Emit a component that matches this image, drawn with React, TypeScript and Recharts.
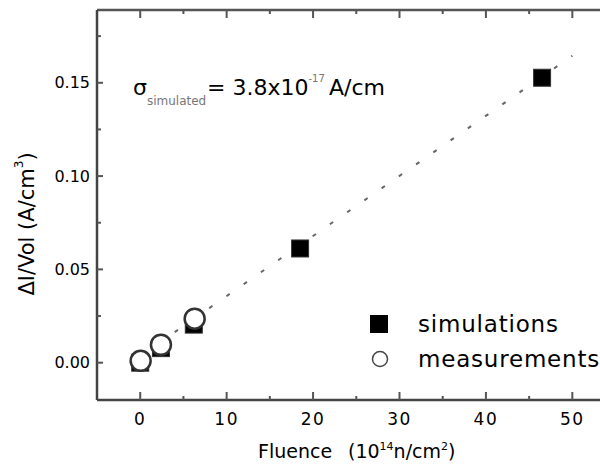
import {
  ScatterChart,
  Scatter,
  XAxis,
  YAxis,
  Legend,
} from 'recharts'

// fluence (1e14 n/cm^2) vs current per volume (A/cm^3)
const simFluence = [0, 2.4, 6.2, 18.5, 46.5]
const simCurrent = [0, 0.0078, 0.0204, 0.0612, 0.1527]
const measFluence = [0.05, 2.4, 6.3]
const measCurrent = [0.001, 0.0096, 0.0236]
const fitFluence = [0, 50]
const fitCurrent = [0.0035, 0.1645]

const xTicks = [0, 5, 10, 15, 20, 25, 30, 35, 40, 45, 50]
const yTicks = [0, 0.025, 0.05, 0.075, 0.1, 0.125, 0.15, 0.175]

const seriesNames = ['simulations', 'measurements']

const simData = simFluence.map((x, i) => ({ x, y: simCurrent[i] }))
const measData = measFluence.map((x, i) => ({ x, y: measCurrent[i] }))
const fitData = fitFluence.map((x, i) => ({ x, y: fitCurrent[i] }))

const FONT = '"DejaVu Sans", sans-serif'
const AXIS = '#444'

const isMajorX = (v: number) => v % 10 === 0
const isMajorY = (v: number) => Math.abs(v * 20 - Math.round(v * 20)) < 1e-6

const BottomTick = (props: any) => {
  const { x, y, payload } = props
  const major = isMajorX(payload.value)
  return (
    <g>
      <line x1={x} x2={x} y1={y} y2={y - (major ? 8 : 4)} stroke="#555" strokeWidth={2} />
      {major && (
        <text x={x} y={y + 25} textAnchor="middle" fontFamily={FONT} fontSize={17} letterSpacing={1.5} fill="#000">
          {payload.value}
        </text>
      )}
    </g>
  )
}

const TopTick = (props: any) => {
  const { x, y, payload } = props
  const major = isMajorX(payload.value)
  return <line x1={x} x2={x} y1={y} y2={y + (major ? 8 : 4)} stroke="#555" strokeWidth={2} />
}

const LeftTick = (props: any) => {
  const { x, y, payload } = props
  const major = isMajorY(payload.value)
  return (
    <g>
      <line x1={x} x2={x + (major ? 6 : 4)} y1={y} y2={y} stroke="#555" strokeWidth={2} />
      {major && (
        <text x={x - 7} y={y} textAnchor="end" dominantBaseline="central" fontFamily={FONT} fontSize={16} fill="#000">
          {payload.value.toFixed(2)}
        </text>
      )}
    </g>
  )
}

const SquareDot = (props: any) => {
  const { cx, cy } = props
  return <rect x={cx - 8.5} y={cy - 8.5} width={17} height={17} fill="#000" stroke="#333" strokeWidth={1} />
}

const CircleDot = (props: any) => {
  const { cx, cy } = props
  return <circle cx={cx} cy={cy} r={10} fill="#fff" stroke="#333" strokeWidth={2.5} />
}

const NoDot = () => null

const renderLegend = () => (
  <svg width={235} height={72}>
    <rect x={5} y={10} width={18} height={18} fill="#000" />
    <text x={53} y={27} fontFamily={FONT} fontSize={23} letterSpacing={0.8} fill="#000">
      {seriesNames[0]}
    </text>
    <circle cx={15} cy={54} r={7.5} fill="#fff" stroke="#444" strokeWidth={1.5} />
    <text x={53} y={62} fontFamily={FONT} fontSize={23} letterSpacing={0.8} fill="#000">
      {seriesNames[1]}
    </text>
  </svg>
)

export default function App() {
  return (
    <div style={{ position: 'absolute', left: 0, top: 0, width: 600, height: 467, background: '#fff', overflow: 'hidden' }}>
      <ScatterChart width={600} height={467} margin={{ top: 0, right: 0, bottom: 0, left: 0 }}>
        <XAxis
          type="number"
          dataKey="x"
          domain={[-5, 53.2]}
          allowDataOverflow
          ticks={xTicks}
          interval={0}
          height={67}
          tickSize={0}
          tickMargin={0}
          tick={<BottomTick />}
          axisLine={{ stroke: AXIS, strokeWidth: 2.5 }}
        />
        <XAxis
          xAxisId="top"
          orientation="top"
          type="number"
          dataKey="x"
          domain={[-5, 53.2]}
          allowDataOverflow
          ticks={xTicks}
          interval={0}
          height={10}
          tickSize={0}
          tickMargin={0}
          tick={<TopTick />}
          axisLine={{ stroke: '#555', strokeWidth: 2.5 }}
        />
        <YAxis
          type="number"
          dataKey="y"
          domain={[-0.02, 0.189]}
          allowDataOverflow
          ticks={yTicks}
          interval={0}
          width={97}
          tickSize={0}
          tickMargin={0}
          tick={<LeftTick />}
          axisLine={{ stroke: AXIS, strokeWidth: 2.5 }}
        />
        <Legend layout="vertical" align="center" verticalAlign="middle" content={renderLegend} wrapperStyle={{ position: 'absolute', left: 365, top: 305, width: 235 }} />
        <Scatter
          name="fit"
          data={fitData}
          line={{ stroke: '#666', strokeWidth: 2, strokeDasharray: '4 17' }}
          shape={<NoDot />}
          legendType="none"
          isAnimationActive={false}
        />
        <Scatter name={seriesNames[0]} data={simData} shape={<SquareDot />} isAnimationActive={false} />
        <Scatter name={seriesNames[1]} data={measData} shape={<CircleDot />} isAnimationActive={false} />
      </ScatterChart>
      <svg width={600} height={467} style={{ position: 'absolute', left: 0, top: 0, pointerEvents: 'none' }}>
        <text transform="rotate(-90, 27, 224)" x={27} y={224} textAnchor="middle" dominantBaseline="central" fontFamily={FONT} fontSize={21} fill="#000">
          ΔI/Vol (A/cm<tspan fontSize={12} dy={-8}>3</tspan>
          <tspan dy={8}>)</tspan>
        </text>
        <text x={258} y={458} fontFamily={FONT} fontSize={19} fill="#000">
          Fluence<tspan x={348}>(10</tspan>
          <tspan fontSize={11} dy={-8}>14</tspan>
          <tspan dy={8}>n/cm</tspan>
          <tspan fontSize={11} dy={-8}>2</tspan>
          <tspan dy={8}>)</tspan>
        </text>
        <text x={133} y={95} fontFamily={FONT} fontSize={22} fill="#000">
          σ<tspan fontSize={12} dy={10} fill="#777">simulated</tspan>
          <tspan x={207} y={95}>= 3.8x10</tspan>
          <tspan fontSize={10} y={82} fill="#777">-17</tspan>
          <tspan x={329} y={95}>A/cm</tspan>
        </text>
      </svg>
    </div>
  )
}
